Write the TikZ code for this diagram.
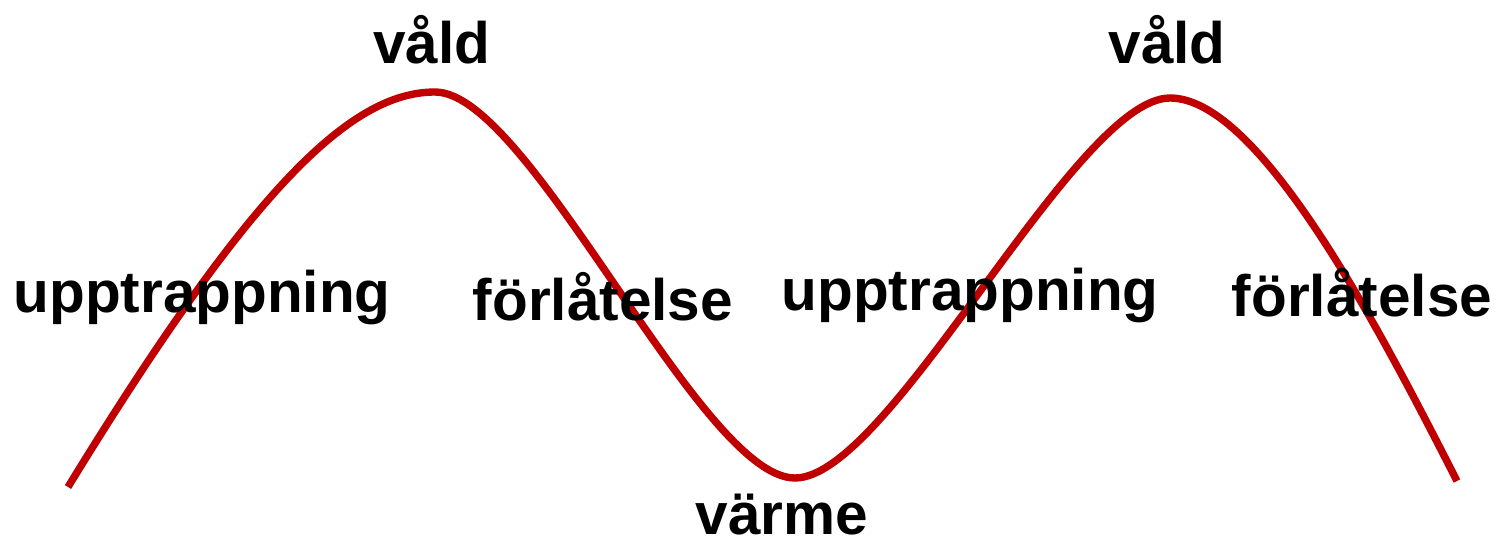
\documentclass[tikz,border=0pt]{standalone}
\usepackage{fontspec}
\setmainfont{Liberation Sans}
\definecolor{curvered}{HTML}{C00000}
\begin{document}
\begin{tikzpicture}[x=0.02cm,y=-0.02cm,
  lbl/.style={font=\fontsize{33.3}{36}\selectfont\bfseries, text=black, inner sep=0pt},
  wave/.style={draw=curvered, line width=4.2pt}]
\useasboundingbox (0,0) rectangle (1499,541);
\coordinate (s) at (68,487);
\coordinate (p1) at (435,92);
\coordinate (t) at (795,478);
\coordinate (p2) at (1170,98);
\coordinate (e) at (1457,481);
\draw[wave] (s) .. controls (250,190) and (350,92) .. (p1)
  .. controls (530,92) and (700,478) .. (t)
  .. controls (890,478) and (1075,98) .. (p2)
  .. controls (1260,98) and (1380,330) .. (e);
\node[lbl] (v1) at (432,40) {våld};
\node[lbl] (v2) at (1167,40) {våld};
\node[lbl] (u1) at (202,297) {upptrappning};
\node[lbl] (f1) at (603,297) {förlåtelse};
\node[lbl] (u2) at (970,295) {upptrappning};
\node[lbl] (f2) at (1362,293) {förlåtelse};
\node[lbl] (w) at (782,515) {värme};
\end{tikzpicture}
\end{document}
